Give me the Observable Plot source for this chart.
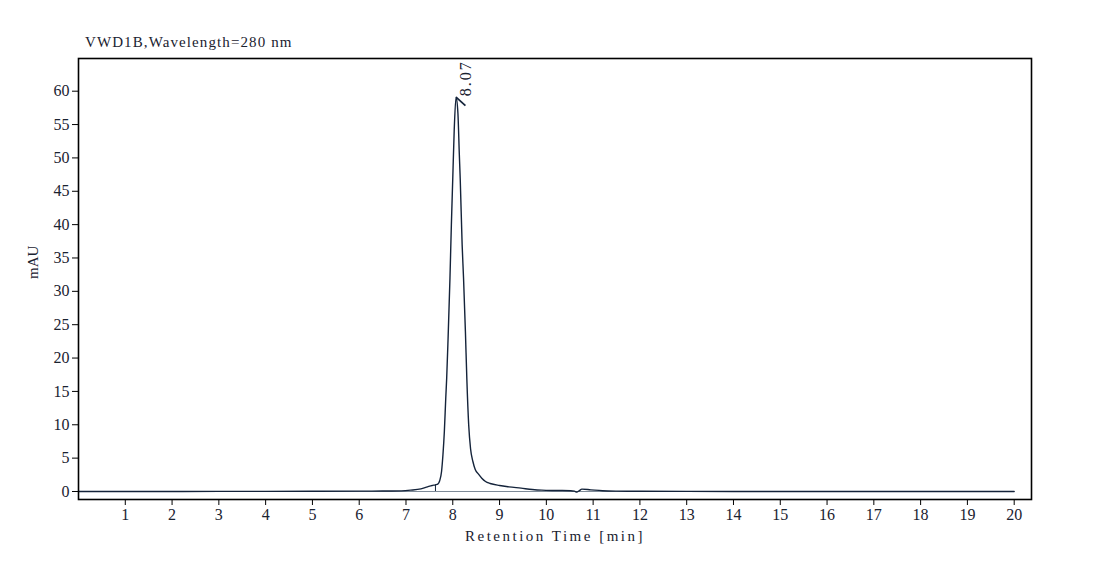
<!DOCTYPE html>
<html><head><meta charset="utf-8">
<script src="https://cdn.jsdelivr.net/npm/d3@7"></script>
<script src="https://cdn.jsdelivr.net/npm/@observablehq/plot@0.6"></script>
<style>
body{margin:0;background:#fff;}
#title{height:52px;box-sizing:border-box;padding:34px 0 0 85px;font:15px "Liberation Serif",serif;letter-spacing:1.1px;line-height:16px;color:#1a2230;}
#chart svg text{font-family:"Liberation Serif",serif;}
</style></head><body>
<div id="title"></div>
<div id="chart"></div>
<script>
const titleText = "VWD1B,Wavelength=280 nm";
const xLabel = "Retention Time [min]";
const yLabel = "mAU";
const xTicks = [1,2,3,4,5,6,7,8,9,10,11,12,13,14,15,16,17,18,19,20];
const yTicks = [0,5,10,15,20,25,30,35,40,45,50,55,60];

const time = [0,1,2,3,4,5,6,6.5,6.9,7.1,7.32,7.46,7.56,7.63,7.68,7.72,7.76,7.79,7.82,7.85,7.87,7.90,7.94,7.97,8.00,8.03,8.07,8.11,8.14,8.16,8.20,8.23,8.27,8.30,8.34,8.38,8.43,8.48,8.55,8.62,8.7,8.8,9.0,9.2,9.46,9.7,9.9,10.2,10.52,10.6,10.65,10.7,10.76,10.95,11.2,11.5,12,13,14,15,16,17,18,19,20];
const signal = [0,0,0,0.02,0.02,0.03,0.05,0.07,0.1,0.2,0.4,0.7,0.9,1.0,1.1,1.6,3.0,5.5,9,14,17,23,32,40,47,54,59.1,56.7,50.5,46.7,37,32,24,17,10,6.4,4.5,3.3,2.6,2.0,1.5,1.2,0.9,0.7,0.5,0.3,0.2,0.15,0.12,0.05,-0.08,0.1,0.35,0.25,0.12,0.06,0.03,0.02,0.01,0,0,0,0,0,0];

const peakTime = [8.07];
const peakHeight = [59.1];
const peakLabel = ["8.07"];
const peakMarkEndTime = [8.27];
const peakMarkEndHeight = [57.85];

const startTime = [7.63];
const startHeight = [1.0];
const baseStart = [0];
const baseEnd = [20];

document.getElementById("title").textContent = titleText;

const trace = time.map((t, i) => ({t, v: signal[i]}));
const peaks = peakTime.map((t, i) => ({t, v: peakHeight[i], label: peakLabel[i], t2: peakMarkEndTime[i], v2: peakMarkEndHeight[i]}));
const starts = startTime.map((t, i) => ({t, v: startHeight[i]}));
const baseline = baseStart.map((a, i) => ({a, b: baseEnd[i]}));

const ink = "#14233a";
const txt = "#1a2230";
const serif = "'Liberation Serif', serif";
const chart = Plot.plot({
  width: 1117, height: 509,
  marginTop: 6, marginLeft: 78, marginRight: 86, marginBottom: 62,
  style: {fontFamily: serif, fontSize: "16px", color: txt, background: "transparent"},
  x: {domain: [0, 20.37], label: null},
  y: {domain: [-1.2, 64.9], label: null},
  marks: [
    Plot.axisX({ticks: xTicks, tickSize: 6, tickPadding: 3, tickFormat: d => String(d), label: null, fontFamily: serif, fontSize: 16, stroke: "#000", fill: txt}),
    Plot.axisY({ticks: yTicks, tickSize: 6, tickPadding: 3, tickFormat: d => String(d), label: null, fontFamily: serif, fontSize: 16, stroke: "#000", fill: txt}),
    Plot.ruleY(baseline, {y: 0, x1: "a", x2: "b", stroke: "#7d8996", strokeWidth: 1}),
    Plot.line(trace, {x: "t", y: "v", stroke: ink, strokeWidth: 1.4, curve: "monotone-x"}),
    Plot.ruleX(starts, {x: "t", y1: 0, y2: "v", stroke: ink, strokeWidth: 1}),
    Plot.link(peaks, {x1: "t", y1: "v", x2: "t2", y2: "v2", stroke: ink, strokeWidth: 1.7}),
    Plot.text(peaks, {x: "t", y: "v", text: "label", rotate: -90, textAnchor: "start", lineAnchor: "middle", dx: 10, dy: -1, fontFamily: serif, fontSize: 16, fill: txt}),
    Plot.frame({stroke: "#000", strokeWidth: 1.6}),
    Plot.text([xLabel], {text: d => d, frameAnchor: "bottom", dy: 41, fontFamily: serif, fontSize: 15, fill: txt}),
    Plot.text([yLabel], {text: d => d, frameAnchor: "left", dx: -45, rotate: -90, fontFamily: serif, fontSize: 15, fill: txt})
  ]
});
document.getElementById("chart").appendChild(chart);
d3.select(chart).selectAll("text").each(function() {
  const s = this.textContent;
  if (s === xLabel) this.style.letterSpacing = "2.5px";
  else if (peakLabel.includes(s)) this.style.letterSpacing = "2px";
});
</script>
</body></html>
